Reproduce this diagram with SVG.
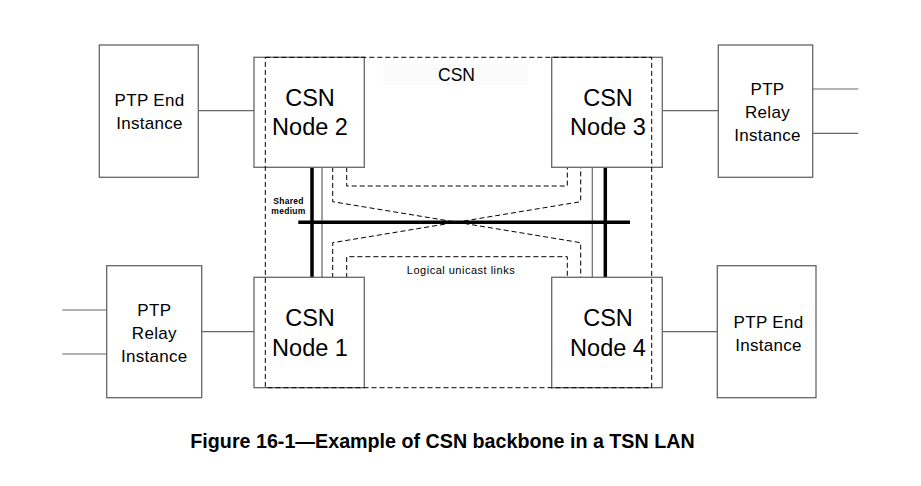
<svg xmlns="http://www.w3.org/2000/svg" width="921" height="486" viewBox="0 0 921 486">
<style>
.box{fill:#fff;stroke:#666;stroke-width:1.3}
.thin{stroke:#666;stroke-width:1.2;fill:none}
.dash{stroke:#000;stroke-width:1;stroke-dasharray:5,3;fill:none}
.bus{stroke:#000;stroke-width:3.5;fill:none}
.big{font-family:"Liberation Sans",Arial,sans-serif;font-size:23.5px;fill:#000;text-anchor:middle}
.mid{font-family:"Liberation Sans",Arial,sans-serif;font-size:17px;letter-spacing:0.3px;fill:#000;text-anchor:middle}
.small{font-family:"Liberation Sans",Arial,sans-serif;font-size:11px;letter-spacing:0.5px;fill:#000;text-anchor:middle}
.tiny{font-family:"Liberation Sans",Arial,sans-serif;font-size:8.5px;font-weight:bold;letter-spacing:0.3px;fill:#000;text-anchor:middle}
.cap{font-family:"Liberation Sans",Arial,sans-serif;font-size:19.7px;font-weight:bold;fill:#000;text-anchor:middle}
</style>
<rect width="921" height="486" fill="#fff"/>
<rect x="383" y="62" width="145" height="23" fill="#fbfbfb"/>
<g id="connectors">
<line class="thin" x1="198.3" y1="110.7" x2="254" y2="110.7"/>
<line class="thin" x1="662.3" y1="110.7" x2="718.3" y2="110.7"/>
<line class="thin" x1="812.7" y1="89" x2="858.3" y2="89"/>
<line class="thin" x1="812.7" y1="133.3" x2="858.3" y2="133.3"/>
<line class="thin" x1="62.3" y1="310" x2="106.7" y2="310"/>
<line class="thin" x1="62.3" y1="354" x2="106.7" y2="354"/>
<line class="thin" x1="201.7" y1="331.7" x2="254" y2="331.7"/>
<line class="thin" x1="662.3" y1="331.7" x2="717.3" y2="331.7"/>
<line class="thin" x1="322" y1="167" x2="322" y2="278"/>
<line class="thin" x1="592.3" y1="167" x2="592.3" y2="278"/>
<path class="dash" d="M346.7,167 V186 H567.3 V167"/>
<path class="dash" d="M346.7,278 V256.7 H567.3 V278"/>
<path class="dash" d="M332.7,167 V201.7 L580.7,242.7 V278"/>
<path class="dash" d="M332.7,278 V242.7 L580.7,201.7 V167"/>
<line class="bus" x1="312" y1="167" x2="312" y2="278"/>
<line class="bus" x1="605.3" y1="167" x2="605.3" y2="278"/>
<line class="bus" x1="298.3" y1="222.3" x2="630" y2="222.3"/>
</g>
<g id="ptp-end-left">
<rect class="box" x="99.3" y="45" width="99" height="132.3"/>
<text class="mid" x="149.5" y="106">PTP End</text>
<text class="mid" x="149.5" y="129">Instance</text>
</g>
<g id="ptp-relay-left">
<rect class="box" x="106.7" y="265.7" width="95" height="132"/>
<text class="mid" x="154.3" y="316">PTP</text>
<text class="mid" x="154.3" y="339">Relay</text>
<text class="mid" x="154.3" y="362">Instance</text>
</g>
<g id="ptp-relay-right">
<rect class="box" x="718.3" y="45" width="94.4" height="132.3"/>
<text class="mid" x="767.5" y="95.3">PTP</text>
<text class="mid" x="767.5" y="118.3">Relay</text>
<text class="mid" x="767.5" y="141">Instance</text>
</g>
<g id="ptp-end-right">
<rect class="box" x="717.3" y="265.7" width="98.7" height="132"/>
<text class="mid" x="768.5" y="328.3">PTP End</text>
<text class="mid" x="768.5" y="351">Instance</text>
</g>
<g id="csn-node-2">
<rect class="box" x="254" y="57.3" width="110.3" height="110"/>
</g>
<g id="csn-node-3">
<rect class="box" x="551.7" y="57.3" width="110.6" height="110"/>
</g>
<g id="csn-node-1">
<rect class="box" x="254" y="277.3" width="110.3" height="110.4"/>
</g>
<g id="csn-node-4">
<rect class="box" x="551.7" y="277.3" width="110.6" height="110.4"/>
</g>
<g id="csn">
<rect class="dash" x="265.3" y="57.3" width="386.4" height="330.4"/>
<text class="mid" x="456.5" y="80.5" style="font-size:17.5px;letter-spacing:0">CSN</text>
</g>
<text class="big" x="310" y="106">CSN</text>
<text class="big" x="310" y="135">Node 2</text>
<text class="big" x="608" y="106">CSN</text>
<text class="big" x="608" y="135">Node 3</text>
<text class="big" x="310" y="326">CSN</text>
<text class="big" x="310" y="356">Node 1</text>
<text class="big" x="608" y="326">CSN</text>
<text class="big" x="608" y="356">Node 4</text>
<text class="tiny" x="288.5" y="204">Shared</text>
<text class="tiny" x="288.5" y="214">medium</text>
<text class="small" x="461" y="274.3">Logical unicast links</text>
<text class="cap" x="442.5" y="447.7">Figure 16-1—Example of CSN backbone in a TSN LAN</text>
</svg>
